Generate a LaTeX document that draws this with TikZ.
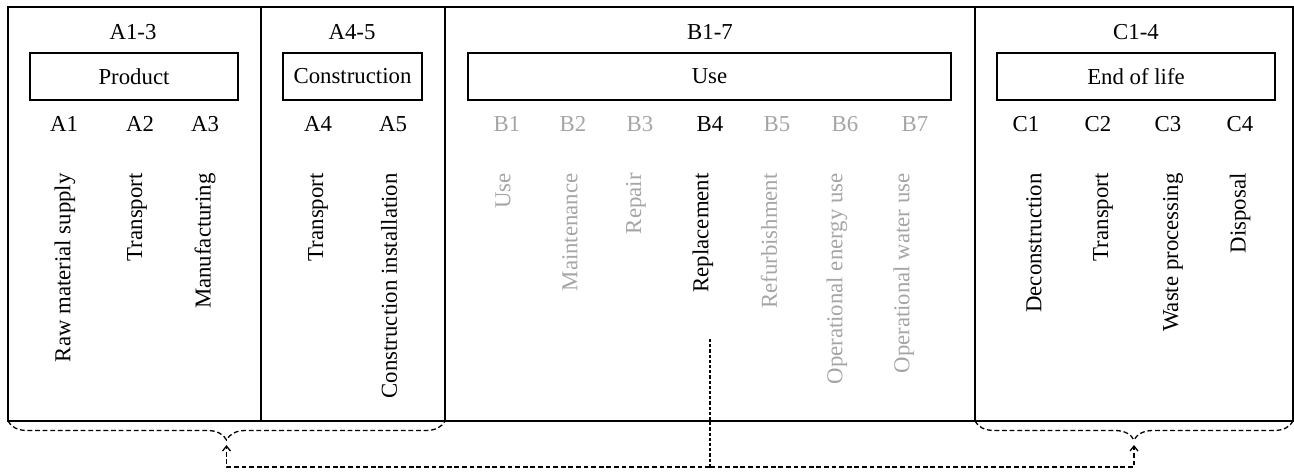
\documentclass[tikz,border=0pt]{standalone}
\usepackage{fontspec}
\setmainfont{Liberation Serif}
\usepackage{xcolor}
\usetikzlibrary{positioning,decorations.pathreplacing,arrows.meta}
\definecolor{faded}{RGB}{165,165,165}

\begin{document}
\begin{tikzpicture}[x=0.5pt, y=-0.5pt, font=\fontsize{11.4}{13}\selectfont,
	frameline/.style={line width=0.8pt},
	phase/.style={draw, line width=0.6pt, minimum height=23.5pt, inner sep=0pt},
	module/.style={inner sep=0pt},
	stagetext/.style={rotate=90, anchor=east, inner sep=0pt},
	grey/.style={text=faded},
	bracket/.style={dashed, dash pattern=on 2.4pt off 1.4pt, line width=0.65pt,
		decorate, decoration={brace, mirror, amplitude=9.5pt}},
	flow/.style={dash pattern=on 2.4pt off 1.4pt, line width=0.65pt},
	flowup/.style={flow, -{Straight Barb[length=2.5pt, width=4pt]}}]
	\useasboundingbox (0,0) rectangle (1294,471);

	% Outer frame and stage dividers
	\coordinate (nw) at (8,7);
	\coordinate (sw) at (8,421);
	\coordinate (se) at (1293,421);
	\coordinate (dA) at (445,421);
	\coordinate (dC) at (975,421);
	\draw[frameline] (nw) rectangle (se);
	\foreach \x in {261,445,975}
	\draw[frameline] (\x,7) -- (\x,421);

	% Stage headers
	\node (hA13) at (133,32) {A1-3};
	\node (hA45) at (352,32) {A4-5};
	\node (hB17) at (710,32) {B1-7};
	\node (hC14) at (1136,32) {C1-4};

	% Phase boxes
	\node[phase, minimum width=104pt] (product) at (134,76.5) {Product};
	\node[phase, minimum width=69.5pt] (constr) at (352.5,76.5) {Construction};
	\node[phase, minimum width=241.5pt] (use) at (709.5,76.5) {Use};
	\node[phase, minimum width=139pt] (eol) at (1136,76.5) {End of life};

	% Module codes
	\node[module] (A1) at (64,124) {A1};
	\node[module] (A2) at (140,124) {A2};
	\node[module] (A3) at (205,124) {A3};
	\node[module] (A4) at (318,124) {A4};
	\node[module] (A5) at (393,124) {A5};
	\node[module, grey] (B1) at (507,124) {B1};
	\node[module, grey] (B2) at (573,124) {B2};
	\node[module, grey] (B3) at (640,124) {B3};
	\node[module] (B4) at (710,124) {B4};
	\node[module, grey] (B5) at (777,124) {B5};
	\node[module, grey] (B6) at (845,124) {B6};
	\node[module, grey] (B7) at (915,124) {B7};
	\node[module] (C1) at (1026,124) {C1};
	\node[module] (C2) at (1098,124) {C2};
	\node[module] (C3) at (1168,124) {C3};
	\node[module] (C4) at (1240,124) {C4};

	% Module names
	\node[stagetext] (tA1) at (65,173) {Raw material supply};
	\node[stagetext] (tA2) at (137,173) {Transport};
	\node[stagetext] (tA3) at (205,173) {Manufacturing};
	\node[stagetext] (tA4) at (318,173) {Transport};
	\node[stagetext] (tA5) at (389,173) {Construction installation};
	\node[stagetext, grey] (tB1) at (503,173) {Use};
	\node[stagetext, grey] (tB2) at (570,173) {Maintenance};
	\node[stagetext, grey] (tB3) at (636,173) {Repair};
	\node[stagetext] (tB4) at (703,173) {Replacement};
	\node[stagetext, grey] (tB5) at (769,173) {Refurbishment};
	\node[stagetext, grey] (tB6) at (837,173) {Operational energy use};
	\node[stagetext, grey] (tB7) at (904,173) {Operational water use};
	\node[stagetext] (tC1) at (1034,173) {Deconstruction};
	\node[stagetext] (tC2) at (1103,173) {Transport};
	\node[stagetext] (tC3) at (1173,173) {Waste processing};
	\node[stagetext] (tC4) at (1240,173) {Disposal};

	% Braces under A and C
	\draw[bracket] (sw) -- (dA);
	\draw[bracket] (dC) -- (se);
	\coordinate (tipA) at (226.5,445);
	\coordinate (tipC) at (1134,445);

	% Replacement feeds back to A and C
	\coordinate (rep) at (710,339);
	\coordinate (join) at (710,467);
	\draw[flow, dash pattern=on 1.6pt off 1pt] (rep) -- (join);
	\draw[flowup] (join) -| (tipA);
	\draw[flowup] (join) -| (tipC);
\end{tikzpicture}
\end{document}
